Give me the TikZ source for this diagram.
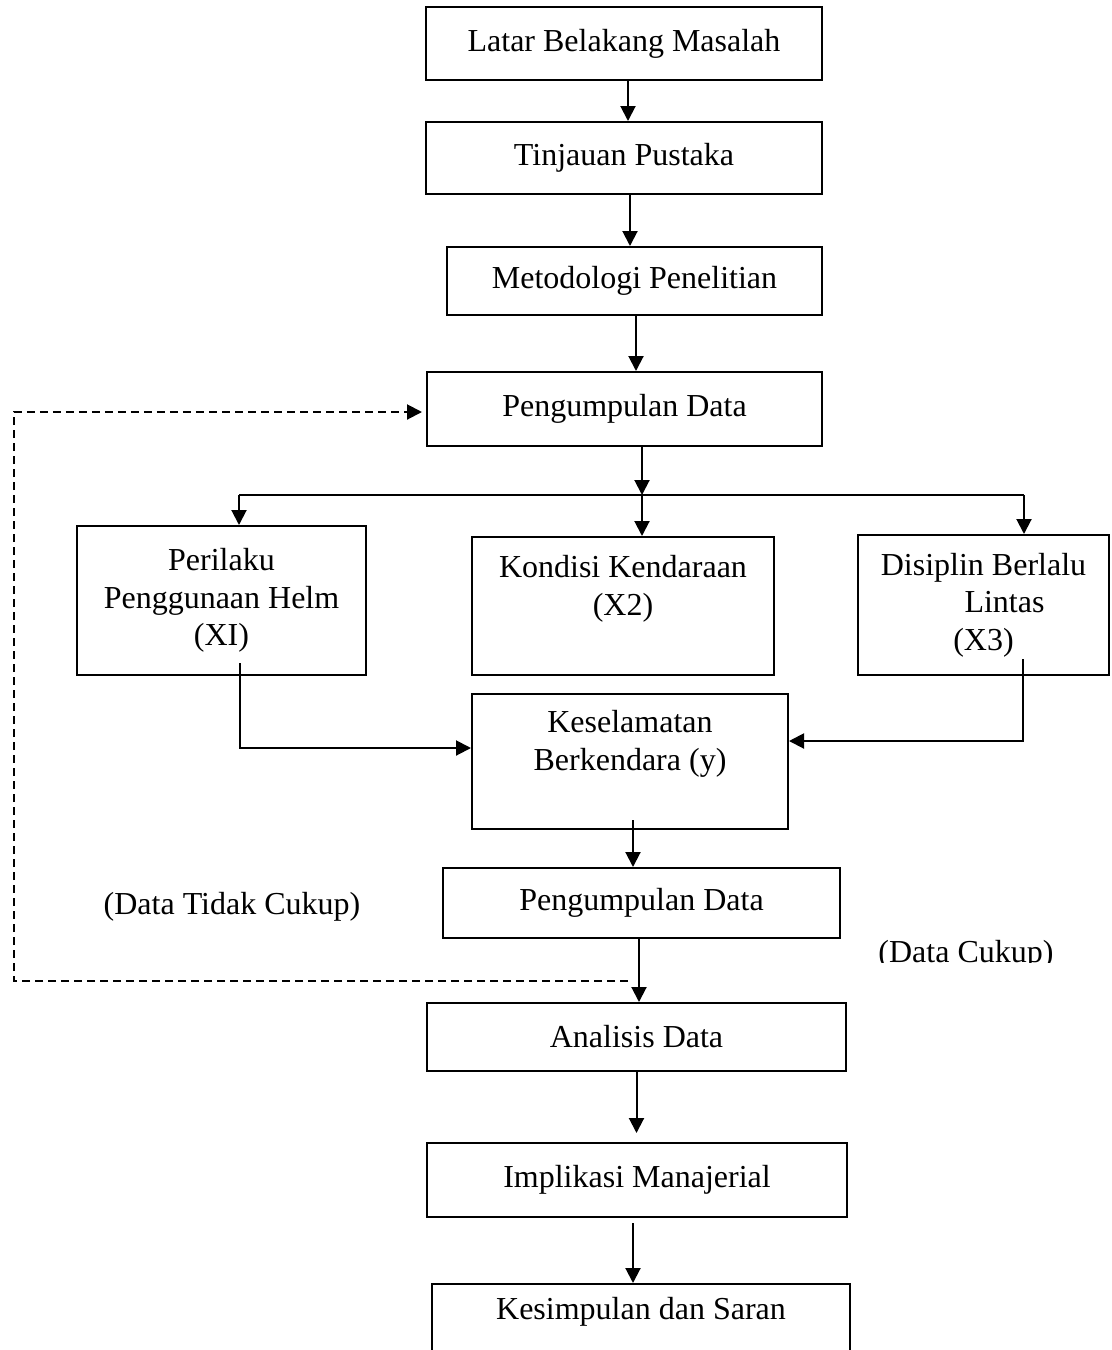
\documentclass[tikz,border=0pt]{standalone}
\usepackage{fontspec}
\setmainfont{Liberation Serif}
\usetikzlibrary{arrows.meta,calc}
\newcommand\diagfont{\fontsize{16}{18.75}\selectfont}
\tikzset{
  box/.style={draw, line width=1pt, rectangle, inner sep=0pt, font=\diagfont, align=center},
  lbl/.style={inner sep=0pt, font=\diagfont, align=center},
  conn/.style={line width=1pt},
  arr/.style={line width=1pt, -{Triangle[length=7.5pt,width=7.5pt]}},
  dasharr/.style={line width=1pt, dash pattern=on 4pt off 2.5pt, -{Triangle[length=7.5pt,width=7.5pt]}, shorten >=2pt}
}
\begin{document}
\begin{tikzpicture}[x=0.5pt,y=-0.5pt]
\useasboundingbox[fill=white] (0,0) rectangle (1112,1350);

% main boxes
\node[box, minimum width=198pt, minimum height=36.5pt] (b1) at (624,43.5) {Latar Belakang Masalah};
\node[box, minimum width=198pt, minimum height=36pt] (b2) at (624,158) {Tinjauan Pustaka};
\node[box, minimum width=187.5pt, minimum height=34pt] (b3) at (634.5,281) {Metodologi Penelitian};
\node[box, minimum width=197.5pt, minimum height=37pt] (b4) at (624.5,409) {Pengumpulan Data};

\node[box, minimum width=144.5pt, minimum height=74.5pt] (xi) at (221.5,600.5) {Perilaku\\Penggunaan Helm\\(XI)};
\node[box, minimum width=151pt, minimum height=69pt] (x2) at (623,606) {};
\node[lbl] (x2t) at (623,589) {Kondisi Kendaraan\\(X2)};
\node[box, minimum width=125.5pt, minimum height=70pt] (x3) at (983.5,605) {Disiplin Berlalu\\\hspace*{21pt}Lintas\\(X3)};

\node[box, minimum width=158pt, minimum height=67.5pt] (kes) at (630,761.5) {};
\node[lbl] (kest) at (630,744) {Keselamatan\\Berkendara (y)};

\node[box, minimum width=198.5pt, minimum height=35pt] (pd2) at (641.5,903) {Pengumpulan Data};
\node[box, minimum width=209.5pt, minimum height=34pt] (ad) at (636.5,1037) {Analisis Data};
\node[box, minimum width=210pt, minimum height=37pt] (im) at (637,1180) {Implikasi Manajerial};
\node[box, minimum width=209pt, minimum height=43pt] (ks) at (641,1327) {};
\node[lbl] (kst) at (641,1312) {Kesimpulan dan Saran};

% side labels
\node[lbl] (ntc) at (232,907) {(Data Tidak Cukup)};
\begin{scope}
  \clip (850,930) rectangle (1112,962);
  \node[lbl] (nc) at (966,954.5) {(Data Cukup)};
\end{scope}

% vertical chain
\draw[arr] ([xshift=2pt]b1.south) -- ([xshift=2pt]b1.south |- b2.north);
\draw[arr] ([xshift=3pt]b2.south) -- ([xshift=3pt]b2.south |- b3.north);
\draw[arr] ([xshift=0.75pt]b3.south) -- ([xshift=0.75pt]b3.south |- b4.north);

% branching
\coordinate (jm) at (642,495);
\coordinate (jl) at (239,495);
\coordinate (jr) at (1024,495);
\draw[arr] (b4.south -| jm) -- (jm);
\draw[conn] (jl) -- (jr);
\draw[arr] (jl) -- (jl |- xi.north);
\draw[arr] (jm) -- (jm |- x2.north);
\draw[arr] (jr) -- (jr |- x3.north);

% into Keselamatan
\draw[arr] ([xshift=9.25pt,yshift=6.5pt]xi.south) |- ([yshift=6.75pt]kes.west);
\draw[arr] ([xshift=19.75pt,yshift=8.5pt]x3.south) |- ([yshift=10.25pt]kes.east);

% lower chain
\draw[arr] ([xshift=1.5pt,yshift=5pt]kes.south) -- ([xshift=1.5pt]kes.south |- pd2.north);
\draw[arr] ([xshift=-1.25pt]pd2.south) -- ([xshift=-1.25pt]pd2.south |- ad.north);
\draw[arr, shorten >=4.5pt] (ad.south) -- (ad.south |- im.north);
\draw[arr, shorten <=2.5pt] ([xshift=-2pt]im.south) -- ([xshift=-2pt]im.south |- ks.north);

% feedback dashed loop
\coordinate (dend) at (628,981);
\coordinate (dcorner) at (14,981);
\draw[dasharr] (dend) -- (dcorner) |- ([yshift=-1.5pt]b4.west);
\end{tikzpicture}
\end{document}
